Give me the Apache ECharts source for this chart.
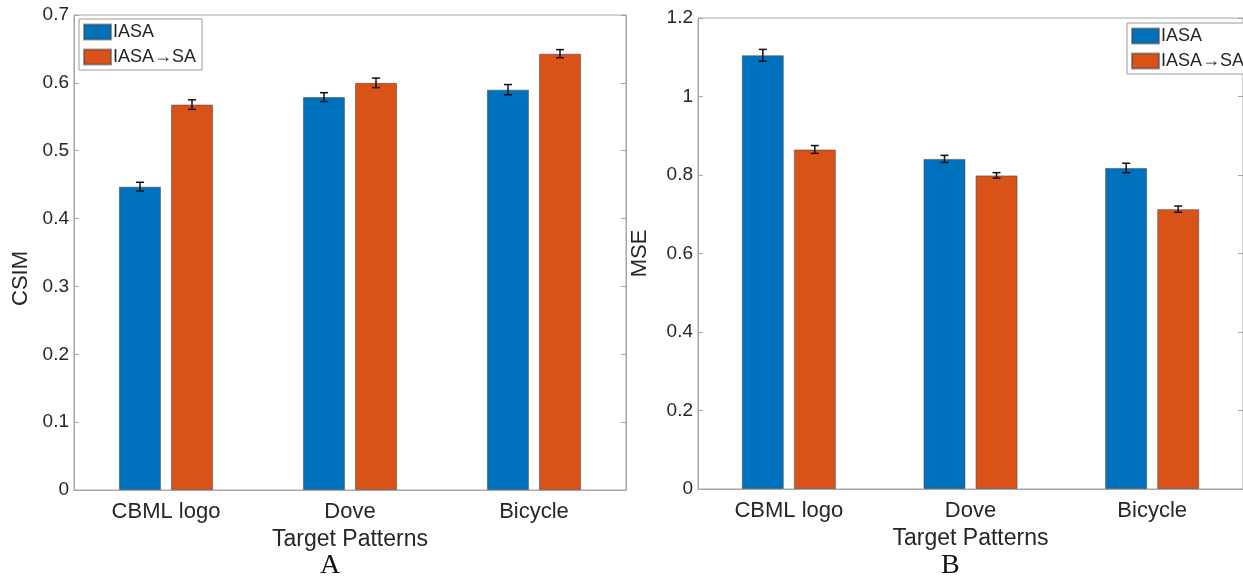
<!doctype html>
<html lang="en">
<head>
    <meta charset="UTF-8">
    <script src="https://cdn.jsdelivr.net/npm/echarts@6/dist/echarts.min.js"></script>
    <title>CSIM / MSE</title>
    <style>
        html, body { margin: 0; padding: 0; background: #fff; }
    </style>
</head>
<body>
<div id="main" style="width: 1243px;height:577px;"></div>
<script>
    // categories and values
    var categories = ['CBML logo', 'Dove', 'Bicycle'];
    var seriesNames = ['IASA', 'IASA→SA'];

    // panel A: CSIM
    var csimIasa = [0.447, 0.579, 0.590];
    var csimIasaErr = [0.0065, 0.0065, 0.0075];
    var csimSa = [0.568, 0.600, 0.643];
    var csimSaErr = [0.007, 0.007, 0.006];
    var csimTicks = {min: 0, max: 0.7, interval: 0.1};

    // panel B: MSE
    var mseIasa = [1.105, 0.841, 0.818];
    var mseIasaErr = [0.015, 0.009, 0.012];
    var mseSa = [0.865, 0.799, 0.713];
    var mseSaErr = [0.010, 0.007, 0.008];
    var mseTicks = {min: 0, max: 1.2, interval: 0.2};

    var blue = '#0072BD';
    var orange = '#D95319';
    var axisGray = '#a6a6a6';
    var textColor = '#262626';
    var font = '"Liberation Sans", Arial, Helvetica, sans-serif';

    var myChart = echarts.init(document.getElementById('main'));

    function errData(vals, errs) {
        var out = [];
        for (var i = 0; i < vals.length; i++) {
            out.push([i, vals[i], errs[i]]);
        }
        return out;
    }

    // whisker drawn at the bar centre, shifted half a bar + half a gap
    function errorSeries(vals, errs, xi, yi, shift) {
        return {
            type: 'custom',
            xAxisIndex: xi,
            yAxisIndex: yi,
            z: 10,
            silent: true,
            data: errData(vals, errs),
            encode: {x: 0, y: 1},
            renderItem: function (params, api) {
                var c = api.value(0);
                var v = api.value(1);
                var e = api.value(2);
                var hi = api.coord([c, v + e]);
                var lo = api.coord([c, v - e]);
                var x = hi[0] + shift;
                var st = {stroke: '#111', lineWidth: 1.5};
                return {
                    type: 'group',
                    children: [
                        {type: 'line', shape: {x1: x, y1: hi[1], x2: x, y2: lo[1]}, style: st},
                        {type: 'line', shape: {x1: x - 4, y1: hi[1], x2: x + 4, y2: hi[1]}, style: st},
                        {type: 'line', shape: {x1: x - 4, y1: lo[1], x2: x + 4, y2: lo[1]}, style: st}
                    ]
                };
            }
        };
    }

    function barSeries(name, vals, color, xi, yi) {
        return {
            name: name,
            type: 'bar',
            xAxisIndex: xi,
            yAxisIndex: yi,
            barWidth: 42,
            barGap: '24%',
            data: vals,
            itemStyle: {color: color, borderColor: 'rgba(70,70,70,0.55)', borderWidth: 1}
        };
    }

    function bottomAxis(gi, title) {
        return {
            type: 'category',
            gridIndex: gi,
            data: categories,
            position: 'bottom',
            axisLine: {lineStyle: {color: axisGray, width: 1}},
            axisTick: {inside: true, alignWithLabel: true, length: 5, lineStyle: {color: axisGray}},
            axisLabel: {color: textColor, fontSize: 22, fontFamily: font, margin: 11},
            name: title,
            nameLocation: 'middle',
            nameGap: 35,
            nameTextStyle: {color: textColor, fontSize: 23, fontFamily: font}
        };
    }

    function topAxis(gi) {
        return {
            type: 'category',
            gridIndex: gi,
            data: categories,
            position: 'top',
            axisLine: {lineStyle: {color: axisGray, width: 1}},
            axisTick: {inside: true, alignWithLabel: true, length: 5, lineStyle: {color: axisGray}},
            axisLabel: {show: false}
        };
    }

    function leftAxis(gi, ticks, title, gap, pad) {
        return {
            type: 'value',
            gridIndex: gi,
            position: 'left',
            min: ticks.min,
            max: ticks.max,
            interval: ticks.interval,
            splitLine: {show: false},
            axisLine: {show: true, lineStyle: {color: axisGray, width: 1}},
            axisTick: {show: true, inside: true, length: 5, lineStyle: {color: axisGray}},
            axisLabel: {color: textColor, fontSize: 19, fontFamily: font, margin: 5},
            name: title,
            nameLocation: 'middle',
            nameGap: gap,
            nameTextStyle: {color: textColor, fontSize: 22, fontFamily: font, padding: pad}
        };
    }

    function rightAxis(gi, ticks) {
        return {
            type: 'value',
            gridIndex: gi,
            position: 'right',
            min: ticks.min,
            max: ticks.max,
            interval: ticks.interval,
            splitLine: {show: false},
            axisLine: {show: true, lineStyle: {color: axisGray, width: 1}},
            axisTick: {show: true, inside: true, length: 5, lineStyle: {color: axisGray}},
            axisLabel: {show: false}
        };
    }

    function legendBox(left, top) {
        return {
            left: left,
            top: top,
            orient: 'vertical',
            data: seriesNames,
            icon: 'rect',
            itemWidth: 27,
            itemHeight: 15,
            itemGap: 7,
            padding: [4, 6, 4, 4],
            backgroundColor: '#fff',
            borderColor: '#9a9a9a',
            borderWidth: 1,
            borderRadius: 0,
            selectedMode: false,
            textStyle: {color: textColor, fontSize: 18, fontFamily: font, padding: [0, 0, 0, -3]}
        };
    }

    var option = {
        animation: false,
        backgroundColor: '#fff',
        grid: [
            {left: 74, top: 15, width: 552, height: 475, show: true, borderColor: axisGray, borderWidth: 1, backgroundColor: '#fff'},
            {left: 698, top: 18, width: 555, height: 471, show: true, borderColor: axisGray, borderWidth: 1, backgroundColor: '#fff'}
        ],
        legend: [legendBox(79, 19), legendBox(1127, 23)],
        xAxis: [bottomAxis(0, 'Target Patterns'), bottomAxis(1, 'Target Patterns'), topAxis(0), topAxis(1)],
        yAxis: [
            leftAxis(0, csimTicks, 'CSIM', 42, [0, 52, 0, 0]),
            leftAxis(1, mseTicks, 'MSE', 47, 0),
            rightAxis(0, csimTicks),
            rightAxis(1, mseTicks)
        ],
        series: [
            barSeries(seriesNames[0], csimIasa, blue, 0, 0),
            barSeries(seriesNames[1], csimSa, orange, 0, 0),
            barSeries(seriesNames[0], mseIasa, blue, 1, 1),
            barSeries(seriesNames[1], mseSa, orange, 1, 1),
            errorSeries(csimIasa, csimIasaErr, 0, 0, -26),
            errorSeries(csimSa, csimSaErr, 0, 0, 26),
            errorSeries(mseIasa, mseIasaErr, 1, 1, -26),
            errorSeries(mseSa, mseSaErr, 1, 1, 26)
        ],
        graphic: [
            {type: 'text', left: 320, top: 552, style: {text: 'A', fill: '#111', fontSize: 28, fontFamily: '"Liberation Serif", "DejaVu Serif", serif'}},
            {type: 'text', left: 941, top: 552, style: {text: 'B', fill: '#111', fontSize: 28, fontFamily: '"Liberation Serif", "DejaVu Serif", serif'}}
        ]
    };
    myChart.setOption(option);
</script>
</body>
</html>
